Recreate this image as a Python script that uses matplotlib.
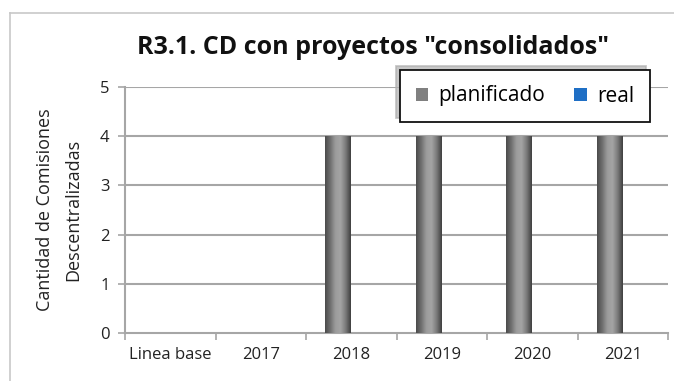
import matplotlib
matplotlib.use("Agg")
import matplotlib.pyplot as plt
import numpy as np
from matplotlib.patches import Patch
from matplotlib.colors import LinearSegmentedColormap

categories = ["Linea base", "2017", "2018", "2019", "2020", "2021"]
planificado = [0, 0, 4, 4, 4, 4]
real = [0, 0, 0, 0, 0, 0]
series_names = ["planificado", "real"]
title = 'R3.1. CD con proyectos "consolidados"'
ylabel = "Cantidad de Comisiones\nDescentralizadas"

plt.rcParams['font.family'] = ['Open Sans', 'DejaVu Sans']

fig = plt.figure(figsize=(6.74, 3.81), dpi=100)
# outer chart frame (top and left edges visible)
fig.add_artist(plt.Line2D([10/674, 10/674], [0, 1 - 13/381], color="#c8c8c8", lw=1.2))
fig.add_artist(plt.Line2D([10/674, 1], [1 - 13/381, 1 - 13/381], color="#c8c8c8", lw=1.2))

ax = fig.add_axes([125/674, 1 - 333/381, (668 - 125)/674, (333 - 87)/381])

x = np.arange(len(categories))
w = 1 / 3.5
grid_col = "#a6a6a6"

for yv in range(1, 6):
    ax.axhline(yv, color=grid_col, lw=1.5, zorder=0)

cmap = LinearSegmentedColormap.from_list(
    "cyl", ["#4a4a4a", "#6e6e6e", "#9c9c9c", "#a4a4a4", "#7a7a7a", "#3e3e3e"])
grad = np.linspace(0, 1, 256).reshape(1, -1)

bars_p = ax.bar(x - w / 2, planificado, width=w, color="#808080", zorder=2, lw=0)
bars_r = ax.bar(x + w / 2, real, width=w, color="#1f6fc5", zorder=2, lw=0)
for b in bars_p:
    h = b.get_height()
    if h <= 0:
        continue
    x0 = b.get_x()
    im = ax.imshow(grad, cmap=cmap, aspect="auto", extent=(x0, x0 + b.get_width(), 0, h),
                   zorder=3, interpolation="bicubic")
    im.set_clip_path(b)
ax.set_xlim(-0.5, len(categories) - 0.5)
ax.set_ylim(0, 5)
ax.set_yticks(range(0, 6))

for s in ["top", "right"]:
    ax.spines[s].set_visible(False)
for s in ["left", "bottom"]:
    ax.spines[s].set_color(grid_col)
    ax.spines[s].set_linewidth(1.5)

ax.set_xticks(x)
ax.set_xticklabels(categories, fontsize=12, color="#222222")
ax.set_xticks(np.arange(-0.5, len(categories)), minor=True)
ax.tick_params(axis="x", which="major", length=0, pad=10)
ax.tick_params(axis="x", which="minor", length=5, color=grid_col, width=1.2)
ax.tick_params(axis="y", length=5, color=grid_col, width=1.2, labelsize=12,
               labelcolor="#222222", pad=6)
ax.set_ylabel(ylabel, fontsize=13, color="#222222", labelpad=13, linespacing=1.75)

fig.text(373/674, 1 - 47/381, title, ha="center", va="center", fontsize=18,
         fontweight="bold", color="#111111")

handles = [Patch(facecolor="#808080", edgecolor="none"),
           Patch(facecolor="#1f6fc5", edgecolor="none")]
leg = fig.legend(handles, series_names, loc="center",
                 bbox_to_anchor=(525/674, 1 - 96/381), ncol=2, frameon=True,
                 fontsize=15, handlelength=0.6, handleheight=0.6, columnspacing=1.4,
                 handletextpad=0.5, borderpad=0.75, borderaxespad=0, fancybox=False,
                 framealpha=1, shadow={"color": "#b0b0b0", "alpha": 0.7, "ox": -3, "oy": 3})
leg.get_frame().set_edgecolor("#111111")
leg.get_frame().set_linewidth(1.3)
leg.get_frame().set_facecolor("white")

fig.savefig("out.png", dpi=100)
